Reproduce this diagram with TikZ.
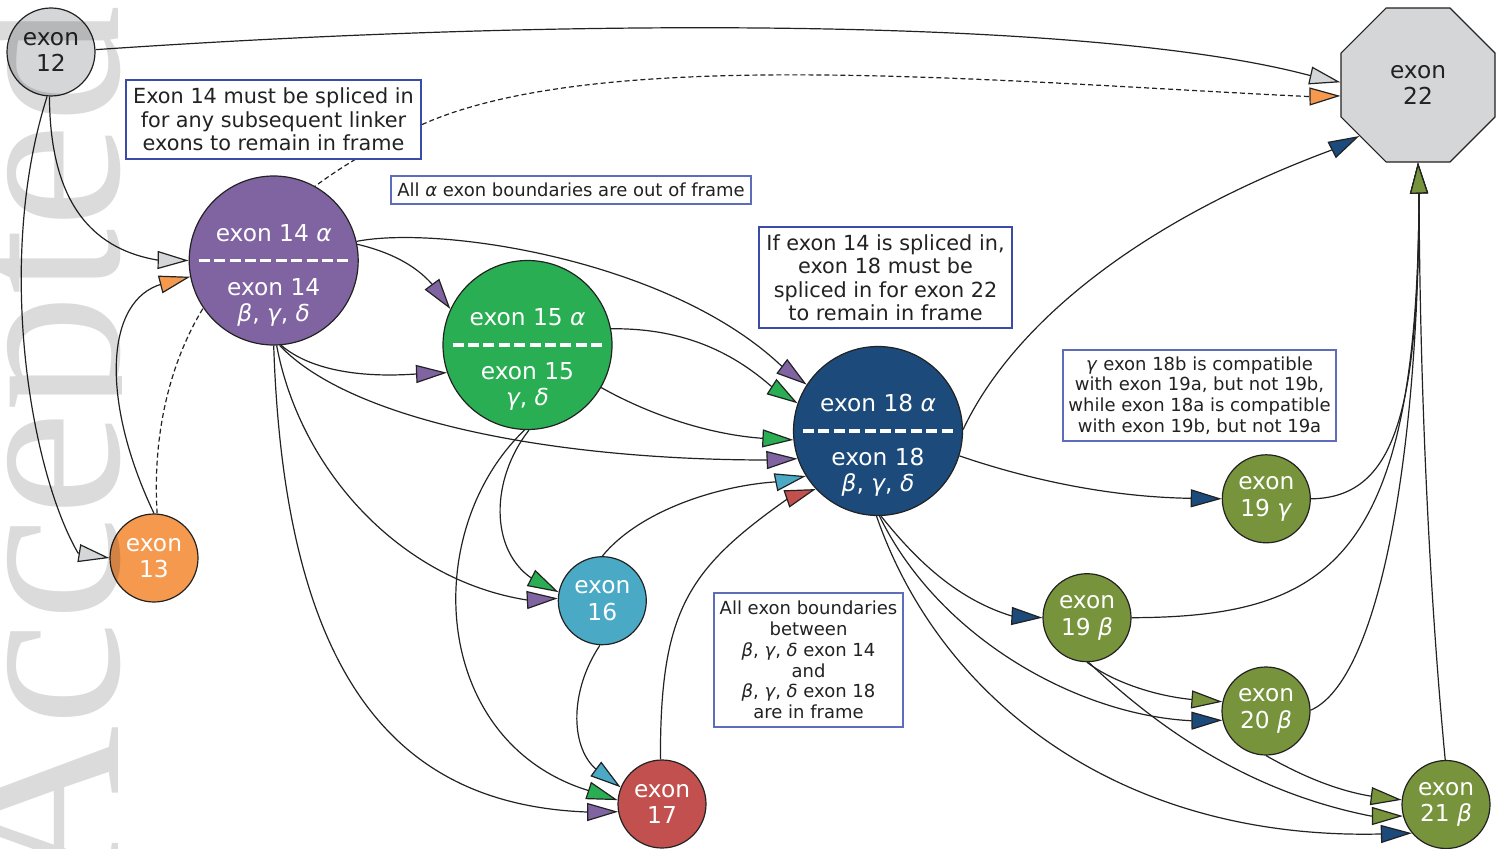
\documentclass[tikz,border=0pt]{standalone}
\usepackage{fontspec}
\setmainfont{DejaVu Sans}
\newfontfamily\wmfont{Liberation Serif}
\usetikzlibrary{arrows.meta,shapes.geometric}
\definecolor{cgray}{HTML}{D5D6D8}
\definecolor{corange}{HTML}{F5994F}
\definecolor{cpurple}{HTML}{8064A2}
\definecolor{cgreen}{HTML}{2AAE53}
\definecolor{cteal}{HTML}{4AAAC5}
\definecolor{cred}{HTML}{C1504E}
\definecolor{cblue}{HTML}{1B4A7B}
\definecolor{colive}{HTML}{77933C}
\definecolor{cnoteA}{HTML}{3B4CA8}
\definecolor{cnoteB}{HTML}{5E6DBA}
\definecolor{cink}{HTML}{222222}
\pgfdeclarelayer{edges}
\pgfdeclarelayer{wm}
\pgfsetlayers{edges,main,wm}
\begin{document}
\begin{tikzpicture}[x=1pt,y=-1pt,
  exnode/.style={circle, draw=cink, line width=1.2pt, inner sep=0pt, align=center, font=\fontsize{23.3}{26.5}\selectfont},
  smallex/.style={exnode, minimum size=88pt},
  bigex/.style={exnode, minimum size=169pt},
  wt/.style={text=white, inner sep=0pt, font=\fontsize{23.3}{26.5}\selectfont},
  sepline/.style={white, line width=3.5pt, dash pattern=on 11pt off 4.4pt},
  bignote/.style={draw=cnoteA, line width=2.6pt, fill=white, inner sep=0pt, align=center, text=cink, font=\fontsize{20.8}{23.5}\selectfont},
  smallnote/.style={draw=cnoteB, line width=1.4pt, fill=white, inner sep=0pt, align=center, text=cink, font=\fontsize{18}{20.8}\selectfont},
  conn/.style={draw=cink, line width=1.2pt},
  agray/.style={conn, -{Triangle[length=31pt,width=18pt,fill=cgray]}},
  aorange/.style={conn, -{Triangle[length=31pt,width=18pt,fill=corange]}},
  apurple/.style={conn, -{Triangle[length=31pt,width=18pt,fill=cpurple]}},
  agreen/.style={conn, -{Triangle[length=31pt,width=18pt,fill=cgreen]}},
  ateal/.style={conn, -{Triangle[length=31pt,width=18pt,fill=cteal]}},
  ared/.style={conn, -{Triangle[length=31pt,width=18pt,fill=cred]}},
  ablue/.style={conn, -{Triangle[length=31pt,width=18pt,fill=cblue]}},
  aolive/.style={conn, -{Triangle[length=31pt,width=18pt,fill=colive]}},
]
\useasboundingbox (0,0) rectangle (1506,848);

% ---------- exon nodes ----------
\node[smallex, fill=cgray, text=cink] (e12) at (51,52) {exon\\12};
\node[smallex, fill=corange, text=white] (e13) at (154,558) {exon\\13};
\node[bigex, fill=cpurple] (e14) at (273.7,260.5) {};
\node[bigex, fill=cgreen] (e15) at (527.5,345) {};
\node[smallex, fill=cteal, text=white] (e16) at (602.3,600.7) {exon\\16};
\node[smallex, fill=cred, text=white] (e17) at (662,804) {exon\\17};
\node[bigex, fill=cblue] (e18) at (878,431) {};
\node[smallex, fill=colive, text=white] (e19g) at (1266.3,498.8) {exon\\19 \textit{γ}};
\node[smallex, fill=colive, text=white] (e19b) at (1087,617.7) {exon\\19 \textit{β}};
\node[smallex, fill=colive, text=white] (e20b) at (1266,711) {exon\\20 \textit{β}};
\node[smallex, fill=colive, text=white] (e21b) at (1446,804.5) {exon\\21 \textit{β}};
\node[regular polygon, regular polygon sides=8, minimum size=166.7pt, draw=cink, line width=1.2pt,
      fill=cgray, text=cink, inner sep=0pt, align=center, font=\fontsize{23.3}{26.5}\selectfont] (e22) at (1418,85) {exon\\22};

% ---------- texts of the split nodes ----------
\node[wt, anchor=base] (e14t1) at (273.7,241) {exon 14 \textit{α}};
\draw[sepline] (198.7,260.5) -- (348.7,260.5);
\node[wt, anchor=base] (e14t2) at (273.7,295) {exon 14};
\node[wt, anchor=base] (e14t3) at (273.7,321) {\textit{β}, \textit{γ}, \textit{δ}};

\node[wt, anchor=base] (e15t1) at (527.5,325.5) {exon 15 \textit{α}};
\draw[sepline] (452.5,345) -- (602.5,345);
\node[wt, anchor=base] (e15t2) at (527.5,379.5) {exon 15};
\node[wt, anchor=base] (e15t3) at (527.5,405.5) {\textit{γ}, \textit{δ}};

\node[wt, anchor=base] (e18t1) at (878,411.5) {exon 18 \textit{α}};
\draw[sepline] (803,431) -- (953,431);
\node[wt, anchor=base] (e18t2) at (878,465.5) {exon 18};
\node[wt, anchor=base] (e18t3) at (878,491.5) {\textit{β}, \textit{γ}, \textit{δ}};

% ---------- notes ----------
\node[bignote, minimum width=295pt, minimum height=79pt] (noteA) at (273.5,119.5)
  {Exon 14 must be spliced in\\for any subsequent linker\\exons to remain in frame};
\node[smallnote, minimum width=360pt, minimum height=28pt] (noteB) at (571,190)
  {All \textit{α} exon boundaries are out of frame};
\node[bignote, minimum width=253pt, minimum height=101pt] (noteC) at (885.5,277.5)
  {If exon 14 is spliced in,\\exon 18 must be\\spliced in for exon 22\\to remain in frame};
\node[smallnote, minimum width=273pt, minimum height=91pt] (noteD) at (1199.5,395.5)
  {\textit{γ} exon 18b is compatible\\with exon 19a, but not 19b,\\while exon 18a is compatible\\with exon 19b, but not 19a};
\node[smallnote, minimum width=189pt, minimum height=134pt] (noteE) at (808.5,660)
  {All exon boundaries\\between\\\textit{β}, \textit{γ}, \textit{δ} exon 14\\and\\\textit{β}, \textit{γ}, \textit{δ} exon 18\\are in frame};

% ---------- connectors ----------
\begin{pgfonlayer}{edges}
% from exon 12
\draw[agray] (e12.3) .. controls (600,15) and (1100,20) .. (1308,75) -- (e22.178);
\draw[agray] (e12.268) .. controls (50,212) and (100,250) .. (157,260) -- (e14.180);
\draw[agray] (e12.265) .. controls (-5,260) and (30,470) .. (78,553) -- (e13.180);
% from exon 13
\draw[aorange] (e13.90) .. controls (100,400) and (105,300) .. (162,284) -- (e14.191);
\draw[aorange, dash pattern=on 5pt off 3pt] (e13.86) .. controls (152,430) and (172,360) .. (202,310)
   .. controls (240,247) and (300,180) .. (421,125)
   .. controls (600,44) and (1000,82) .. (1308,96.5) -- (e22.188);
% from exon 14
\draw[apurple] (e14.11) .. controls (390,252) and (415,265) .. (431.7,283.8) -- (e15.155);
\draw[apurple] (e14.13) .. controls (440,225) and (670,260) .. (781.5,366) -- (e18.147);
\draw[apurple] (e14.275) .. controls (310,370) and (360,378) .. (416,374) -- (e15.199);
\draw[apurple] (e14.274) .. controls (350,420) and (550,460) .. (768,460) -- (e18.199);
\draw[apurple] (e14.272) .. controls (300,470) and (400,580) .. (527,600) -- (e16.177);
\draw[apurple] (e14.270) .. controls (285,690) and (405,805) .. (587,812) -- (e17.190);
% from exon 15
\draw[agreen] (e15.11) .. controls (680,328) and (730,350) .. (771.7,386.7) -- (e18.161);
\draw[agreen] (e15.330) .. controls (650,415) and (710,435) .. (765,438.5) -- (e18.186);
\draw[agreen] (e15.271) .. controls (490,480) and (490,550) .. (531.7,578.3) -- (e16.169);
\draw[agreen] (e15.268) .. controls (420,530) and (430,740) .. (586.7,790) -- (e17.175);
% from exon 16
\draw[ateal] (e16.90) .. controls (640,510) and (720,485) .. (778.3,481.7) -- (e18.212);
\draw[ateal] (e16.267) .. controls (570,690) and (570,745) .. (595,768.3) -- (e17.158);
% from exon 17
\draw[ared] (e17.92) .. controls (660,610) and (688,569) .. (788.3,498.3) -- (e18.223);
% from exon 18
\draw[ablue] (e18.1) .. controls (1010,330) and (1130,225) .. (1331.7,150) -- (e22.221);
\draw[ablue] (e18.343) .. controls (1030,480) and (1110,497) .. (1190,498.3) -- (e19g.180);
\draw[ablue] (e18.272) .. controls (920,565) and (960,600) .. (1011.7,616) -- (e19b.180);
\draw[ablue] (e18.271) .. controls (940,640) and (1080,715) .. (1190.7,720.7) -- (e20b.192);
\draw[ablue] (e18.269) .. controls (940,700) and (1120,840) .. (1380,834) -- (e21b.220);
% from exon 19 beta
\draw[aolive] (e19b.270) .. controls (1110,680) and (1150,695) .. (1190,699.3) -- (e20b.168);
\draw[aolive] (e19b.272) .. controls (1150,720) and (1240,790) .. (1370.7,816) -- (e21b.195);
\draw[aolive] (e19b.0) .. controls (1330,617) and (1418,560) .. (1419,193) -- (e22.270);
% from exon 19 gamma, 20 beta, 21 beta
\draw[aolive] (e19g.0) .. controls (1400,498) and (1418,400) .. (1419,193) -- (e22.270);
\draw[aolive] (e20b.1) .. controls (1380,680) and (1419,450) .. (1419,193) -- (e22.270);
\draw[aolive] (e20b.270) .. controls (1300,775) and (1335,790) .. (1370,796) -- (e21b.174);
\draw[aolive] (e21b.91) .. controls (1430,600) and (1420,400) .. (1419,193) -- (e22.270);
\end{pgfonlayer}

% ---------- watermark ----------
\begin{pgfonlayer}{wm}
\begin{scope}
\clip (0,0) rectangle (121,848);
\node[rotate=90, anchor=base west, inner sep=0pt, text=black, opacity=0.14,
      font=\wmfont\fontsize{236}{236}\selectfont] (wmark) at (118,897) {Accepted};
\end{scope}
\end{pgfonlayer}
\end{tikzpicture}
\end{document}
